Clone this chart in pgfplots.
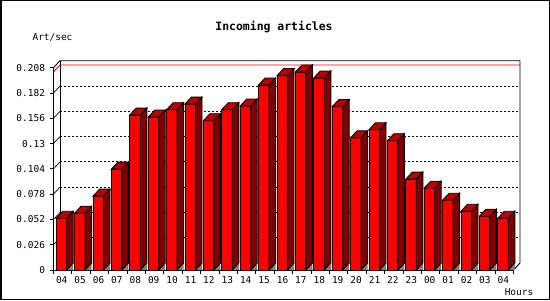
\documentclass[border=0pt]{standalone}
\usepackage{pgfplots}
\pgfplotsset{compat=1.18}
\usepackage{pgfplotstable}
\usepackage{fontspec}
\setmainfont{DejaVu Sans Mono}
\definecolor{barfront}{RGB}{255,0,0}
\definecolor{barside}{RGB}{128,0,0}
\definecolor{bartop}{RGB}{192,0,0}
\definecolor{floorgray}{RGB}{128,128,128}
\newdimen\bh
\makeatletter
\pgfdeclareplotmark{bar3d}{%
  \bh=\barh bp\relax
  \pgfsetlinewidth{0.9bp}%
  \pgfsetstrokecolor{black}%
  % floor shadow
  \pgfsetfillcolor{floorgray}%
  \pgfpathmoveto{\pgfqpoint{4bp}{-\bh}}%
  \pgfpathlineto{\pgfqpoint{10.5bp}{\dimexpr7bp-\bh\relax}}%
  \pgfpathlineto{\pgfqpoint{10.5bp}{-\bh}}%
  \pgfpathclose
  \pgfusepath{fill}%
  % front face
  \pgfsetfillcolor{barfront}%
  \pgfpathrectanglecorners{\pgfqpoint{-6.5bp}{0bp}}{\pgfqpoint{4bp}{-\bh}}%
  \pgfusepath{fill,stroke}%
  % side face
  \pgfsetfillcolor{barside}%
  \pgfpathmoveto{\pgfqpoint{4bp}{0bp}}%
  \pgfpathlineto{\pgfqpoint{10.5bp}{7bp}}%
  \pgfpathlineto{\pgfqpoint{10.5bp}{\dimexpr7bp-\bh\relax}}%
  \pgfpathlineto{\pgfqpoint{4bp}{-\bh}}%
  \pgfpathclose
  \pgfusepath{fill,stroke}%
  % top face
  \pgfsetfillcolor{bartop}%
  \pgfpathmoveto{\pgfqpoint{-6.5bp}{0bp}}%
  \pgfpathlineto{\pgfqpoint{0bp}{7bp}}%
  \pgfpathlineto{\pgfqpoint{10.5bp}{7bp}}%
  \pgfpathlineto{\pgfqpoint{4bp}{0bp}}%
  \pgfpathclose
  \pgfusepath{fill,stroke}%
}
\makeatother
\pgfplotstableread{
x val
0 0.0532
1 0.0584
2 0.0759
3 0.1037
4 0.1593
5 0.1573
6 0.1648
7 0.1706
8 0.1535
9 0.1648
10 0.1686
11 0.1902
12 0.1998
13 0.2036
14 0.1974
15 0.1679
16 0.1359
17 0.1442
18 0.1329
19 0.0934
20 0.0841
21 0.0717
22 0.0604
23 0.0553
24 0.0532
}\rates
\begin{document}
\begin{tikzpicture}[x=1bp,y=1bp]
\useasboundingbox (0,0) rectangle (550,300);
\draw[line width=1.5bp] (0.75,0.75) rectangle (549.25,299.25);
% back wall grid
\foreach \v in {0.026,0.052,0.078,0.104,0.13,0.156,0.182}{
  \draw[line width=0.9bp, dash pattern=on 2bp off 2bp] (60,{37+\v*972.6}) -- (520,{37+\v*972.6});
  \draw[line width=0.7bp] (53.5,{30+\v*972.6}) -- (60,{37+\v*972.6});
}
% max line
\draw[red, line width=0.9bp] (53.5,{30+0.2036*972.6}) -- (60,{37+0.2036*972.6}) -- (520,{37+0.2036*972.6});
% 3D frame
\draw[line width=0.9bp] (53.5,232.3) -- (60,239.3) -- (520,239.3) -- (520,37) -- (513.5,30);
\draw[line width=0.9bp] (60,239.3) -- (60,37);
\begin{axis}[
  at={(53.5bp,30bp)}, anchor=south west,
  scale only axis, width=460bp, height=202.3bp,
  xmin=-0.5, xmax=24.5, ymin=0, ymax=0.208,
  axis x line*=bottom, axis y line*=left,
  x axis line style={-}, y axis line style={-},
  axis line style={line width=0.9bp},
  clip=false,
  ytick={0,0.026,0.052,0.078,0.104,0.13,0.156,0.182,0.208},
  yticklabels={0,0.026,0.052,0.078,0.104,0.13,0.156,0.182,0.208},
  xtick={0,...,24},
  xticklabels={04,05,06,07,08,09,10,11,12,13,14,15,16,17,18,19,20,21,22,23,00,01,02,03,04},
  minor xtick={-0.5,0.5,...,24.5},
  tick align=outside,
  major tick length=4bp,
  minor tick length=3.5bp,
  major x tick style={draw=none},
  tick style={line width=0.9bp, black},
  ticklabel style={font=\fontsize{9.5}{11}\selectfont},
  yticklabel style={anchor=east, xshift=-1bp},
  xticklabel style={xshift=-1bp, yshift=1bp},
]
\addplot[scatter, only marks, mark=bar3d,
  visualization depends on={rawy*972.6 \as \barh}]
  table[x=x, y=val] {\rates};
\end{axis}
\node[font=\bfseries\fontsize{11.5}{13}\selectfont] at (274,273.3) {Incoming articles};
\node[font=\fontsize{9.5}{11}\selectfont] at (52.5,262.7) {Art/sec};
\node[font=\fontsize{9.5}{11}\selectfont] at (519,8.3) {Hours};
\end{tikzpicture}
\end{document}
